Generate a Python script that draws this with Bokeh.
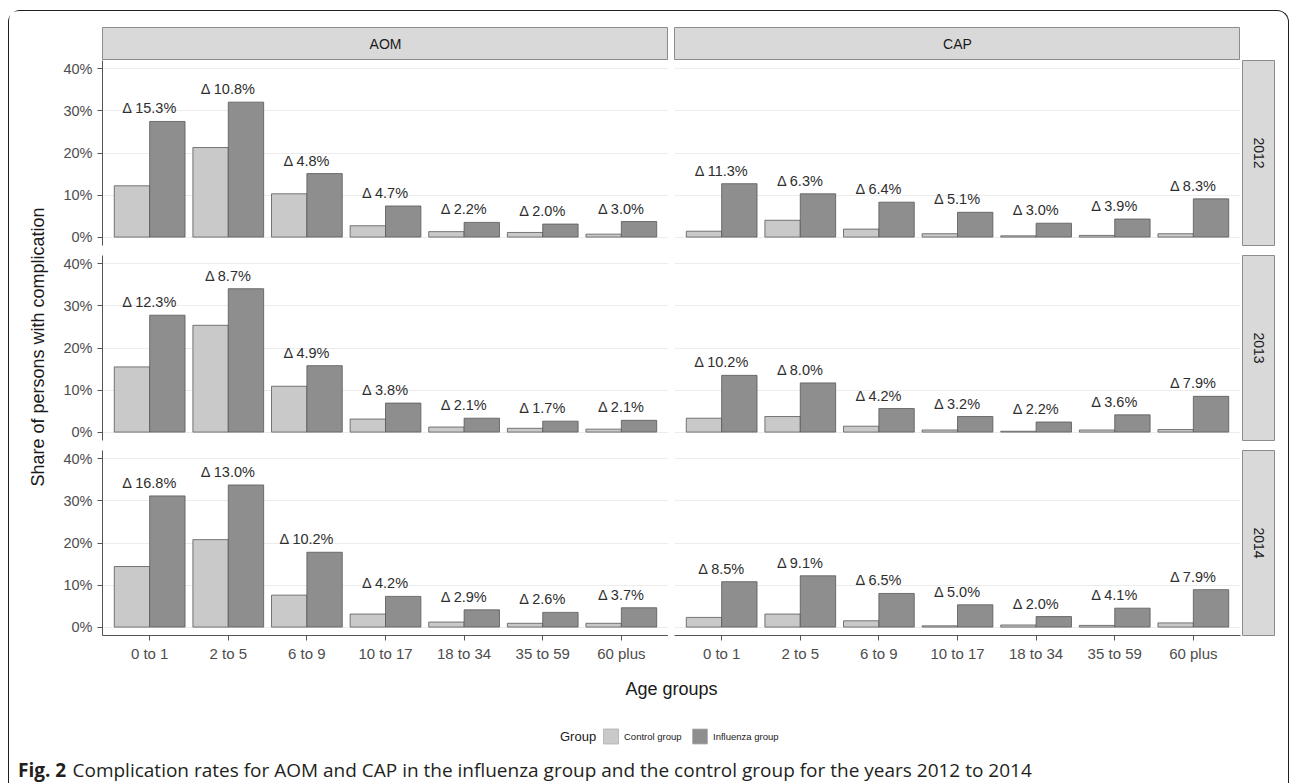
import math
from bokeh.plotting import figure
from bokeh.models import (ColumnDataSource, Range1d, FixedTicker, PrintfTickFormatter,
                          Label, Spacer, Grid)
from bokeh.layouts import column, row
from bokeh.transform import dodge
from bokeh.core.properties import value
from bokeh.embed import file_html
from bokeh.resources import INLINE

# ---------------- data ----------------
ages = ["0 to 1", "2 to 5", "6 to 9", "10 to 17", "18 to 34", "35 to 59", "60 plus"]
years = ["2012", "2013", "2014"]
outcomes = ["AOM", "CAP"]
groups = ["Control group", "Influenza group"]
y_ticks = [0, 10, 20, 30, 40]

aom_control_2012 = [12.2, 21.3, 10.3, 2.7, 1.3, 1.1, 0.7]
aom_influenza_2012 = [27.5, 32.1, 15.1, 7.4, 3.5, 3.1, 3.7]
aom_delta_2012 = [15.3, 10.8, 4.8, 4.7, 2.2, 2.0, 3.0]

cap_control_2012 = [1.4, 4.0, 1.9, 0.8, 0.3, 0.4, 0.8]
cap_influenza_2012 = [12.7, 10.3, 8.3, 5.9, 3.3, 4.3, 9.1]
cap_delta_2012 = [11.3, 6.3, 6.4, 5.1, 3.0, 3.9, 8.3]

aom_control_2013 = [15.5, 25.4, 10.9, 3.1, 1.2, 0.9, 0.7]
aom_influenza_2013 = [27.8, 34.1, 15.8, 6.9, 3.3, 2.6, 2.8]
aom_delta_2013 = [12.3, 8.7, 4.9, 3.8, 2.1, 1.7, 2.1]

cap_control_2013 = [3.3, 3.7, 1.4, 0.5, 0.2, 0.5, 0.6]
cap_influenza_2013 = [13.5, 11.7, 5.6, 3.7, 2.4, 4.1, 8.5]
cap_delta_2013 = [10.2, 8.0, 4.2, 3.2, 2.2, 3.6, 7.9]

aom_control_2014 = [14.4, 20.8, 7.6, 3.1, 1.2, 0.9, 0.9]
aom_influenza_2014 = [31.2, 33.8, 17.8, 7.3, 4.1, 3.5, 4.6]
aom_delta_2014 = [16.8, 13.0, 10.2, 4.2, 2.9, 2.6, 3.7]

cap_control_2014 = [2.3, 3.1, 1.5, 0.3, 0.5, 0.4, 1.0]
cap_influenza_2014 = [10.8, 12.2, 8.0, 5.3, 2.5, 4.5, 8.9]
cap_delta_2014 = [8.5, 9.1, 6.5, 5.0, 2.0, 4.1, 7.9]

# ---------------- style ----------------
FONT = "Liberation Sans"
CTRL_COL = "#c9c9c9"
INFL_COL = "#8e8e8e"
BAR_LINE = "#585858"
AXIS_COL = "#555555"
TICK_TXT = "#4d4d4d"
STRIP_FILL = "#d9d9d9"
STRIP_LINE = "#8c8c8c"
GRID_COL = "#ececec"
FRAME_COL = "#231f20"

INNER_W = 1279
INNER_H = 772
YT_W = 48                  # column holding the y title
FW, FH = 566, 185          # panel frame size
LEFT_W = 45                # room for y tick labels
GAP = 6                    # gap between panels
RIGHT_PAD = 2
STRIP_W = 33
ROW_GAP = 10
BOTTOM_AX = 30
HEADER_H = 49
HEADER_TOP = 16


def panel(ctrl, infl, delta, left, bottom):
    mb_l = LEFT_W if left else GAP
    mb_r = 0 if left else RIGHT_PAD
    mb_b = BOTTOM_AX if bottom else ROW_GAP
    n = len(ages)
    p = figure(width=FW + mb_l + mb_r, height=FH + mb_b,
               x_range=Range1d(-0.6, n - 1 + 0.6), y_range=Range1d(-2, 42),
               output_backend="svg", toolbar_location=None,
               x_axis_location="below" if bottom else None,
               y_axis_location="left" if left else None,
               min_border_left=mb_l, min_border_right=mb_r,
               min_border_top=0, min_border_bottom=mb_b)
    p.outline_line_color = None
    p.background_fill_color = "white"
    p.border_fill_color = "white"
    p.grid.grid_line_color = None
    p.add_layout(Grid(dimension=1, ticker=FixedTicker(ticks=y_ticks),
                      grid_line_color=GRID_COL, grid_line_width=1))

    src = ColumnDataSource(dict(
        x=list(range(n)), ctrl=ctrl, infl=infl,
        lab=["\u0394 %.1f%%" % d for d in delta]))
    p.vbar(x=dodge("x", -0.225, range=p.x_range), top="ctrl", bottom=0, width=0.45,
           source=src, fill_color=CTRL_COL, line_color=BAR_LINE, line_width=0.8)
    p.vbar(x=dodge("x", 0.225, range=p.x_range), top="infl", bottom=0, width=0.45,
           source=src, fill_color=INFL_COL, line_color=BAR_LINE, line_width=0.8)
    p.text(x="x", y="infl", text="lab", source=src, text_align="center",
           text_baseline="bottom", y_offset=-5, text_font=value(FONT),
           text_font_size="14.5px", text_color="#2e2e2e")

    if left:
        ax = p.yaxis[0]
        ax.ticker = FixedTicker(ticks=y_ticks)
        ax.formatter = PrintfTickFormatter(format="%d%%")
        ax.minor_tick_line_color = None
        ax.major_tick_in = 0
        ax.major_tick_out = 5
        ax.axis_line_color = AXIS_COL
        ax.major_tick_line_color = AXIS_COL
        ax.major_label_text_font = FONT
        ax.major_label_text_font_size = "14.5px"
        ax.major_label_text_color = TICK_TXT
        ax.major_label_standoff = 5
    if bottom:
        ax = p.xaxis[0]
        ax.ticker = FixedTicker(ticks=list(range(n)))
        ax.major_label_overrides = {i: a for i, a in enumerate(ages)}
        ax.minor_tick_line_color = None
        ax.major_tick_in = 0
        ax.major_tick_out = 5
        ax.axis_line_color = AXIS_COL
        ax.major_tick_line_color = AXIS_COL
        ax.major_label_text_font = FONT
        ax.major_label_text_font_size = "15px"
        ax.major_label_text_color = TICK_TXT
        ax.major_label_standoff = 4
    return p


def strip(text, w, h, top=0, bottom=0, left=0, right=0, angle=0.0):
    p = figure(width=w, height=h, x_range=Range1d(0, 1), y_range=Range1d(0, 1),
               x_axis_location=None, y_axis_location=None,
               output_backend="svg", toolbar_location=None,
               min_border_top=top, min_border_bottom=bottom,
               min_border_left=left, min_border_right=right)
    p.grid.grid_line_color = None
    p.background_fill_color = STRIP_FILL
    p.border_fill_color = "white"
    p.outline_line_color = STRIP_LINE
    p.outline_line_width = 1
    p.add_layout(Label(x=0.5, y=0.5, text=text, angle=angle, text_align="center",
                       text_baseline="middle", text_font=FONT,
                       text_font_size="14px", text_color="#1a1a1a"))
    return p


def blank(w, h):
    p = figure(width=w, height=h, x_range=Range1d(0, w), y_range=Range1d(h, 0),
               x_axis_location=None, y_axis_location=None,
               output_backend="svg", toolbar_location=None,
               min_border_left=0, min_border_right=0, min_border_top=0, min_border_bottom=0)
    p.grid.grid_line_color = None
    p.outline_line_color = None
    p.border_fill_color = "white"
    p.background_fill_color = "white"
    return p


data = {
    ("AOM", "2012"): (aom_control_2012, aom_influenza_2012, aom_delta_2012),
    ("CAP", "2012"): (cap_control_2012, cap_influenza_2012, cap_delta_2012),
    ("AOM", "2013"): (aom_control_2013, aom_influenza_2013, aom_delta_2013),
    ("CAP", "2013"): (cap_control_2013, cap_influenza_2013, cap_delta_2013),
    ("AOM", "2014"): (aom_control_2014, aom_influenza_2014, aom_delta_2014),
    ("CAP", "2014"): (cap_control_2014, cap_influenza_2014, cap_delta_2014),
}

header = row(
    Spacer(width=LEFT_W, height=HEADER_H),
    strip(outcomes[0], FW, HEADER_H, top=HEADER_TOP, bottom=HEADER_H - HEADER_TOP - 33),
    Spacer(width=GAP, height=HEADER_H),
    strip(outcomes[1], FW, HEADER_H, top=HEADER_TOP, bottom=HEADER_H - HEADER_TOP - 33),
)

grid_rows = [header]
for yi, yr in enumerate(years):
    is_bottom = yi == len(years) - 1
    a = panel(*data[("AOM", yr)], left=True, bottom=is_bottom)
    c = panel(*data[("CAP", yr)], left=False, bottom=is_bottom)
    mb_b = BOTTOM_AX if is_bottom else ROW_GAP
    s = strip(yr, STRIP_W, FH + mb_b, bottom=mb_b, angle=-math.pi / 2)
    grid_rows.append(row(a, c, s))

panels_h = HEADER_H + 2 * (FH + ROW_GAP) + (FH + BOTTOM_AX)

# y-axis title column
yt = blank(YT_W, panels_h)
yt.add_layout(Label(x=28.5, y=335.5, text="Share of persons with complication",
                    angle=math.pi / 2, text_align="center", text_baseline="middle",
                    text_font=FONT, text_font_size="18px", text_color="#1a1a1a"))

# ---------------- bottom: x title, legend, caption ----------------
BOT_H = INNER_H - panels_h
bot = blank(INNER_W, BOT_H)
bot.add_layout(Label(x=YT_W + LEFT_W + FW + GAP / 2, y=23.5, text="Age groups",
                     text_align="center", text_baseline="middle", text_font=FONT,
                     text_font_size="18px", text_color="#1a1a1a"))

leg_y = 71
bot.add_layout(Label(x=550.5, y=leg_y, text="Group", text_align="left", text_baseline="middle",
                     text_font=FONT, text_font_size="13px", text_color="#1a1a1a"))
key_x = [601.5, 690.5]
leg_src = ColumnDataSource(dict(x=key_x, y=[leg_y, leg_y], col=[CTRL_COL, INFL_COL],
                                lab=groups, tx=[k + 13 for k in key_x]))
bot.rect(x="x", y="y", width=15, height=15, source=leg_src, fill_color="col",
         line_color="#b0b0b0", line_width=0.8)
bot.text(x="tx", y="y", text="lab", source=leg_src, text_align="left",
         text_baseline="middle", text_font=value(FONT), text_font_size="9.5px",
         text_color="#1a1a1a")

cap_y = 104
bot.add_layout(Label(x=8.5, y=cap_y, text="Fig. 2", text_align="left", text_baseline="middle",
                     text_font="Open Sans", text_font_size="19px", text_font_style="bold",
                     text_color=FRAME_COL))
bot.add_layout(Label(x=63, y=cap_y,
                     text="Complication rates for AOM and CAP in the influenza group and the control group for the years 2012 to 2014",
                     text_align="left", text_baseline="middle", text_font="Open Sans",
                     text_font_size="19px", text_color=FRAME_COL))

inner = column(row(yt, column(*grid_rows)), bot,
               styles={"border-top": "1.5px solid " + FRAME_COL,
                       "border-left": "1.5px solid " + FRAME_COL,
                       "border-right": "1.5px solid " + FRAME_COL,
                       "border-top-left-radius": "12px",
                       "border-top-right-radius": "12px"})

layout = column(Spacer(width=10, height=10), row(Spacer(width=8, height=10), inner))

open("out.html", "w").write(file_html(layout, INLINE))
